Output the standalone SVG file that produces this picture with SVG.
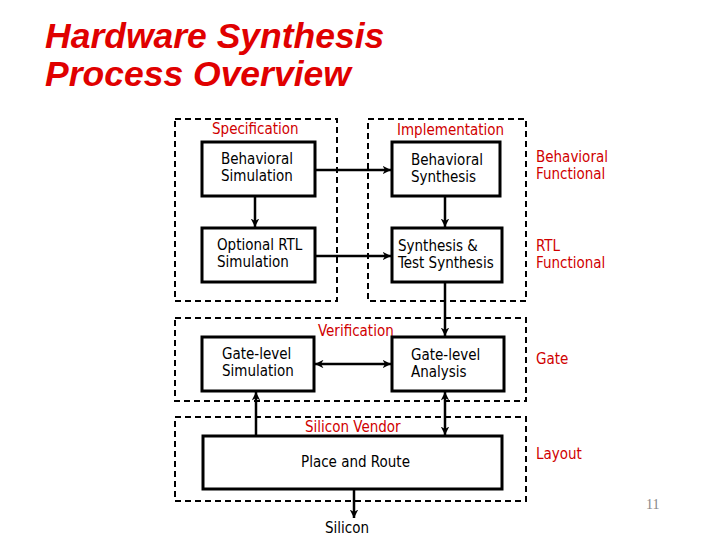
<svg xmlns="http://www.w3.org/2000/svg" width="720" height="540" viewBox="0 0 720 540">
<defs>
<marker id="ah" viewBox="0 0 10 10" refX="10" refY="5" markerWidth="3.4" markerHeight="3.4" orient="auto-start-reverse" markerUnits="strokeWidth">
<path d="M0,0 L10,5 L0,10 L3,5 z" fill="#000"/>
</marker>
<style>
.grp{fill:none;stroke:#000;stroke-width:2;stroke-dasharray:6,4}
.box{fill:#fff;stroke:#000;stroke-width:3}
.t{font-family:"DejaVu Sans Condensed","DejaVu Sans",sans-serif;font-size:15px;fill:#000}
.r{font-family:"DejaVu Sans Condensed","DejaVu Sans",sans-serif;font-size:15px;fill:#d00000}
.c{fill:none;stroke:#000;stroke-width:2.5}
.title{font-family:"Liberation Sans",Arial,sans-serif;font-size:35.5px;font-weight:bold;font-style:italic;fill:#e00000}
</style>
</defs>
<rect width="720" height="540" fill="#fff"/>
<text class="title" x="45" y="48">Hardware Synthesis</text>
<text class="title" x="45" y="86">Process Overview</text>

<g id="groups">
<rect class="grp" x="175" y="119" width="162" height="182"/>
<rect class="grp" x="368" y="119" width="158" height="182"/>
<rect class="grp" x="175" y="318" width="351" height="83"/>
<rect class="grp" x="175" y="417" width="351" height="84"/>
</g>

<g id="connectors">
<line class="c" x1="315" y1="170" x2="391" y2="170" marker-end="url(#ah)"/>
<line class="c" x1="315" y1="256" x2="391" y2="256" marker-end="url(#ah)"/>
<line class="c" x1="255" y1="196" x2="255" y2="227" marker-end="url(#ah)"/>
<line class="c" x1="445" y1="196" x2="445" y2="227" marker-end="url(#ah)"/>
<line class="c" x1="445" y1="282" x2="445" y2="336" marker-end="url(#ah)"/>
<line class="c" x1="315" y1="364" x2="391" y2="364" marker-start="url(#ah)" marker-end="url(#ah)"/>
<line class="c" x1="256" y1="436" x2="256" y2="392" marker-end="url(#ah)"/>
<line class="c" x1="445" y1="392" x2="445" y2="435" marker-start="url(#ah)" marker-end="url(#ah)"/>
<line class="c" x1="354" y1="489" x2="354" y2="518" marker-end="url(#ah)"/>
</g>

<g id="labels">
<text class="r" x="212" y="134">Specification</text>
<text class="r" x="397" y="135">Implementation</text>
<text class="r" x="318" y="336">Verification</text>
<text class="r" x="305" y="432">Silicon Vendor</text>
<text class="r" x="536" y="162">Behavioral</text>
<text class="r" x="536" y="179">Functional</text>
<text class="r" x="536" y="251">RTL</text>
<text class="r" x="536" y="268">Functional</text>
<text class="r" x="536" y="364">Gate</text>
<text class="r" x="536" y="459">Layout</text>
<text x="646" y="509" font-family="Liberation Serif,serif" font-size="14" fill="#888">11</text>
</g>

<g id="behavioral-simulation">
<rect class="box" x="202" y="142" width="113" height="54"/>
<text class="t" x="221" y="164">Behavioral</text>
<text class="t" x="221" y="181">Simulation</text>
</g>
<g id="optional-rtl-simulation">
<rect class="box" x="202" y="228" width="113" height="54"/>
<text class="t" x="217" y="250">Optional RTL</text>
<text class="t" x="217" y="267">Simulation</text>
</g>
<g id="behavioral-synthesis">
<rect class="box" x="392" y="142" width="108" height="54"/>
<text class="t" x="411" y="165">Behavioral</text>
<text class="t" x="411" y="182">Synthesis</text>
</g>
<g id="synthesis-test">
<rect class="box" x="392" y="228" width="110" height="54"/>
<text class="t" x="398" y="251">Synthesis &amp;</text>
<text class="t" x="398" y="268">Test Synthesis</text>
</g>
<g id="gate-level-simulation">
<rect class="box" x="202" y="337" width="112" height="54"/>
<text class="t" x="222" y="359">Gate-level</text>
<text class="t" x="222" y="376">Simulation</text>
</g>
<g id="gate-level-analysis">
<rect class="box" x="392" y="337" width="112" height="54"/>
<text class="t" x="411" y="360">Gate-level</text>
<text class="t" x="411" y="377">Analysis</text>
</g>
<g id="place-and-route">
<rect class="box" x="203" y="436" width="299" height="53"/>
<text class="t" x="301" y="467">Place and Route</text>
</g>
<g id="silicon">
<text class="t" x="325" y="533">Silicon</text>
</g>
</svg>
